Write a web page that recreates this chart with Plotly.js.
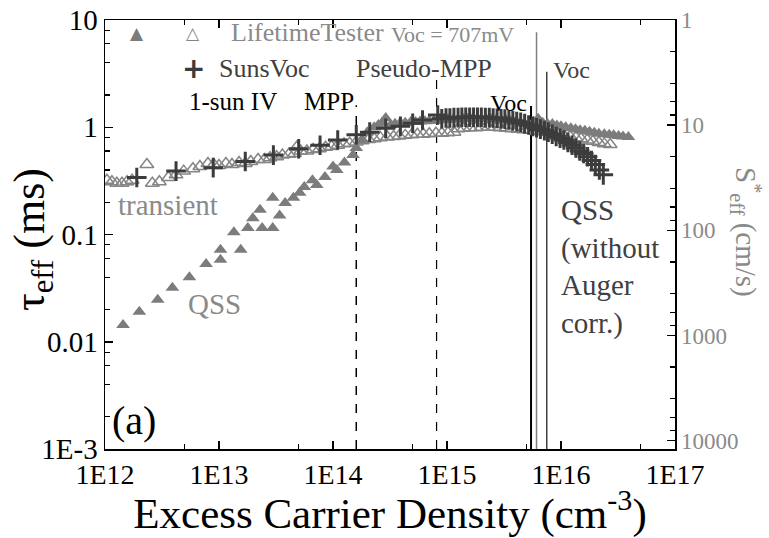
<!DOCTYPE html>
<html>
<head>
<meta charset="utf-8">
<script src="https://cdn.plot.ly/plotly-3.0.1.min.js"></script>
<style>html,body{margin:0;padding:0;background:#fff;}#chart{width:769px;height:538px;}</style>
</head>
<body>
<div id="chart"></div>
<script>
// ---- Data ----
// QSS (LifetimeTester, filled triangles): excess carrier density (cm^-3), tau_eff (ms)
const qssN = [1.44e12, 2.0e12, 2.9e12, 3.9e12, 5.5e12, 7.7e12, 1.03e13, 1.03e13, 1.35e13, 1.55e13,
  1.79e13, 1.98e13, 2.29e13, 2.39e13, 2.96e13, 2.96e13, 3.4e13, 3.8e13, 4.5e13, 5.1e13,
  5.6e13, 6.6e13, 7.2e13, 8.5e13, 1.0e14, 1.08e14, 1.26e14, 1.5e14, 1.6e14, 1.8e14,
  2.0e14, 2.3e14, 2.5e14, 2.7e14, 2.9e14, 3.2e14, 3.5e14, 3.9e14, 4.3e14, 4.8e14,
  5.3e14, 5.8e14, 6.4e14, 7.0e14, 7.7e14, 8.5e14, 9.4e14, 1.03e15, 1.13e15, 1.25e15,
  1.38e15, 1.52e15, 1.67e15, 1.84e15, 2.0e15, 2.2e15, 2.45e15, 2.7e15, 3.0e15, 3.3e15,
  3.6e15, 4.0e15, 4.4e15, 4.8e15, 5.3e15, 5.8e15, 6.3e15, 6.9e15, 7.6e15, 8.4e15,
  9.2e15, 1.0e16, 1.1e16, 1.22e16, 1.34e16, 1.47e16, 1.62e16, 1.78e16, 1.96e16, 2.15e16,
  2.4e16, 2.65e16, 2.9e16, 3.2e16, 3.5e16, 3.9e16];
const qssTau = [0.0143, 0.019, 0.0246, 0.0318, 0.040, 0.053, 0.072, 0.058, 0.105, 0.072,
  0.115, 0.142, 0.17, 0.115, 0.22, 0.115, 0.15, 0.197, 0.22, 0.245,
  0.277, 0.32, 0.29, 0.344, 0.43, 0.40, 0.47, 0.55, 0.64, 0.76,
  0.90, 1.0, 1.05, 1.1, 1.22, 1.05, 1.08, 1.1, 1.1, 1.12,
  1.12, 1.13, 1.14, 1.15, 1.15, 1.16, 1.17, 1.18, 1.18, 1.19,
  1.2, 1.2, 1.2, 1.2, 1.2, 1.2, 1.19, 1.18, 1.17, 1.16,
  1.14, 1.12, 1.1, 1.08, 1.06, 1.12, 1.2, 1.1, 1.08, 1.07,
  1.04, 1.02, 1.0, 0.98, 0.96, 0.94, 0.93, 0.91, 0.89, 0.87,
  0.86, 0.85, 0.84, 0.83, 0.82, 0.81];

// Transient (LifetimeTester, open triangles)
const tranN = [1.04e12, 1.15e12, 1.27e12, 1.41e12, 1.56e12, 1.73e12, 2.33e12, 2.6e12, 3.0e12, 3.6e12,
  4.2e12, 4.9e12, 5.9e12, 6.8e12, 8.0e12, 9.0e12, 1.0e13, 1.15e13, 1.3e13, 1.5e13,
  1.7e13, 1.9e13, 2.2e13, 2.5e13, 2.8e13, 3.2e13, 3.6e13, 4.1e13, 4.6e13, 4.8e13,
  5.2e13, 5.9e13, 6.7e13, 7.6e13, 8.6e13, 9.7e13, 1.1e14, 1.25e14, 1.4e14, 1.6e14,
  1.8e14, 2.05e14, 2.3e14, 2.6e14, 3.0e14, 3.4e14, 3.8e14, 4.3e14, 4.9e14, 5.5e14,
  6.2e14, 7.0e14, 8.0e14, 9.0e14, 1.02e15, 1.15e15, 1.25e15, 1.4e15, 1.6e15, 1.8e15,
  2.0e15, 2.3e15, 2.6e15, 2.9e15, 3.3e15, 3.7e15, 4.2e15, 4.7e15, 5.3e15, 6.0e15,
  6.7e15, 7.5e15, 8.4e15, 9.5e15, 1.06e16, 1.2e16, 1.35e16, 1.5e16, 1.7e16, 1.9e16,
  2.15e16, 2.4e16, 2.7e16];
const tranTau = [0.32, 0.31, 0.30, 0.30, 0.31, 0.32, 0.45, 0.30, 0.31, 0.34,
  0.36, 0.39, 0.41, 0.43, 0.46, 0.45, 0.44, 0.46, 0.45, 0.47,
  0.46, 0.48, 0.50, 0.50, 0.52, 0.53, 0.55, 0.56, 0.57, 0.65,
  0.60, 0.60, 0.62, 0.63, 0.65, 0.66, 0.68, 0.70, 0.71, 0.73,
  0.75, 0.77, 0.78, 0.80, 0.81, 0.82, 0.83, 0.84, 0.85, 0.86,
  0.86, 0.87, 0.88, 0.88, 0.89, 0.90, 0.97, 0.98, 0.99, 0.99,
  1.0, 1.0, 1.0, 0.99, 0.98, 0.97, 0.96, 0.95, 0.94, 0.92,
  0.91, 0.90, 0.88, 0.86, 0.84, 0.82, 0.80, 0.78, 0.76, 0.74,
  0.72, 0.70, 0.69];

// SunsVoc (crosses)
const sunsN = [1.9e12, 4.2e12, 8.9e12, 1.7e13, 3.0e13, 5.0e13, 7.7e13, 1.1e14, 1.6e14, 2.1e14,
  2.9e14, 3.9e14, 5.0e14, 6.1e14, 8.3e14, 9.0e14, 9.8e14, 1.06e15, 1.15e15, 1.25e15,
  1.35e15, 1.46e15, 1.58e15, 1.71e15, 1.85e15, 2.0e15, 2.17e15, 2.35e15, 2.54e15, 2.75e15,
  2.98e15, 3.22e15, 3.49e15, 3.78e15, 4.09e15, 4.43e15, 4.8e15, 5.2e15, 5.63e15, 6.1e15,
  6.6e15, 7.15e15, 7.74e15, 8.38e15, 9.07e15, 9.82e15, 1.06e16, 1.15e16, 1.25e16, 1.35e16,
  1.46e16, 1.58e16, 1.71e16, 1.85e16, 2.0e16, 2.17e16, 2.35e16];
const sunsTau = [0.34, 0.39, 0.42, 0.48, 0.55, 0.63, 0.68, 0.76, 0.85, 0.90,
  0.98, 1.02, 1.09, 1.17, 1.30, 1.20, 1.22, 1.22, 1.23, 1.23,
  1.24, 1.24, 1.24, 1.24, 1.24, 1.24, 1.23, 1.23, 1.22, 1.21,
  1.20, 1.19, 1.17, 1.15, 1.13, 1.11, 1.08, 1.05, 1.02, 0.99,
  0.96, 0.93, 0.90, 0.86, 0.82, 0.79, 0.76, 0.72, 0.68, 0.64,
  0.60, 0.57, 0.53, 0.49, 0.45, 0.40, 0.36];

// Marker lines (MPP, Pseudo-MPP, Voc lines): position and top (tau units)
const vlineN   = [1.6e14, 8.1e14, 5.46e15, 6.1e15, 7.5e15];
const vlineTop = [1.6, 2.9, 1.58, 7.7, 3.3];
const vlineBottom = 1e-3;

// Axis ticks
const xTickVals = [1e12, 1e13, 1e14, 1e15, 1e16, 1e17];
const xTickText = ['1E12', '1E13', '1E14', '1E15', '1E16', '1E17'];
const yTickVals = [10, 1, 0.1, 0.01, 0.001];
const yTickText = ['10', '1', '0.1', '0.01', '1E-3'];
const y2TickVals = [1, 10, 100, 1000, 10000];
const y2TickText = ['1', '10', '100', '1000', '10000'];
const sFactor = 10; // S*_eff (cm/s) = sFactor / tau_eff (ms)

// ---- Styles ----
const serif = "'Liberation Serif'";
const vlineStyles = [
  {color: '#000', width: 1.5, dash: 'dash'},
  {color: '#000', width: 1.2, dash: 'dash'},
  {color: '#000', width: 2, dash: 'solid'},
  {color: '#808080', width: 1.5, dash: 'solid'},
  {color: '#404040', width: 1.5, dash: 'solid'}
];

function minorVals(decLo, decHi, mult) {
  const out = [];
  for (let d = decLo; d < decHi; d++) for (const m of mult) out.push(m * Math.pow(10, d));
  return out;
}

const traces = [];
vlineN.forEach((v, i) => {
  traces.push({x: [v, v], y: [vlineBottom, vlineTop[i]], mode: 'lines', line: vlineStyles[i],
    hoverinfo: 'skip', showlegend: false, cliponaxis: false});
});
traces.push({x: tranN, y: tranTau, mode: 'markers', name: 'transient',
  marker: {symbol: 'triangle-up-open', size: 12, color: '#858585', line: {width: 1.5, color: '#858585'}}, showlegend: false});
traces.push({x: qssN, y: qssTau, mode: 'markers', name: 'QSS',
  marker: {symbol: 'triangle-up', size: 12, color: '#7c7c7c', line: {width: 0}}, showlegend: false});
traces.push({x: sunsN, y: sunsTau, mode: 'markers', name: 'SunsVoc',
  marker: {symbol: 'cross-thin-open', size: 14, color: '#3c3c3c', line: {width: 3, color: '#3c3c3c'}}, showlegend: false});
// Right-hand S*eff axis carries the same QSS data transformed (invisible)
traces.push({x: qssN, y: qssTau.map(t => sFactor / t), yaxis: 'y2', mode: 'markers',
  marker: {opacity: 0}, hoverinfo: 'skip', showlegend: false});

const L = 105, R = 675, T = 20, B = 449;
const px = x => (x - L) / (R - L);
const py = y => (B - y) / (B - T);
function ann(text, x, y, opts) {
  return Object.assign({text: text, xref: 'paper', yref: 'paper', x: px(x), y: py(y), showarrow: false,
    xanchor: 'left', yanchor: 'middle', font: {family: serif, size: 26, color: '#000'}}, opts || {});
}

const annotations = [
  ann('▲', 137, 33, {xanchor: 'center', font: {family: 'DejaVu Sans', size: 17, color: '#7c7c7c'}}),
  ann('△', 193, 33, {xanchor: 'center', font: {family: 'DejaVu Sans', size: 17, color: '#858585'}}),
  ann('LifetimeTester', 229, 33, {font: {family: serif, size: 26, color: '#8a8a8a'}}),
  ann('Voc = 707mV', 389, 34, {font: {family: serif, size: 22, color: '#8a8a8a'}}),
  ann('<b>+</b>', 193, 68, {xanchor: 'center', font: {family: 'DejaVu Sans', size: 28, color: '#3c3c3c'}}),
  ann('SunsVoc', 217, 68, {font: {family: serif, size: 26, color: '#404040'}}),
  ann('Pseudo-MPP', 354, 68, {font: {family: serif, size: 26, color: '#404040'}}),
  ann('1-sun IV', 187, 101, {font: {family: serif, size: 25, color: '#000'}}),
  ann('MPP', 302, 101, {font: {family: serif, size: 25, color: '#000'}}),
  ann('Voc', 529, 103, {xanchor: 'right', font: {family: serif, size: 24, color: '#000'}}),
  ann('Voc', 551, 70, {font: {family: serif, size: 24, color: '#404040'}}),
  ann('transient', 116, 205, {font: {family: serif, size: 29, color: '#8a8a8a'}}),
  ann('QSS', 186, 304, {font: {family: serif, size: 29, color: '#8a8a8a'}}),
  ann('QSS<br>(without<br>Auger<br>corr.)', 559, 192, {yanchor: 'top', align: 'left',
    font: {family: serif, size: 29, color: '#404040'}}),
  ann('(a)', 110, 420, {font: {family: serif, size: 40, color: '#000'}}),
  ann('τ<sub>eff</sub> (ms)', 33, 240, {xanchor: 'center', textangle: -90,
    font: {family: serif, size: 44, color: '#000'}}),
  ann('S<sup>*</sup><sub>eff</sub> (cm/s)', 746, 232, {xanchor: 'center', textangle: 90,
    font: {family: serif, size: 29, color: '#8a8a8a'}})
];

const layout = {
  width: 769, height: 538,
  margin: {l: L, r: 769 - R, t: T, b: 538 - B},
  paper_bgcolor: '#fff', plot_bgcolor: '#fff',
  showlegend: false,
  font: {family: serif},
  xaxis: {
    type: 'log', range: [12, 17], tickvals: xTickVals, ticktext: xTickText,
    ticks: 'inside', ticklen: 8, tickwidth: 1.5, tickcolor: '#000',
    showline: true, linewidth: 1.5, linecolor: '#000', mirror: 'ticks',
    showgrid: false, zeroline: false,
    tickfont: {family: serif, size: 28, color: '#000'},
    minor: {tickvals: minorVals(12, 17, [5]), ticks: 'inside', ticklen: 5, tickwidth: 1.2, tickcolor: '#000', showgrid: false},
    title: {text: 'Excess Carrier Density (cm<sup>-3</sup>)', font: {family: serif, size: 43, color: '#000'}, standoff: 2}
  },
  yaxis: {
    type: 'log', range: [-3, 1], tickvals: yTickVals, ticktext: yTickText,
    ticks: 'inside', ticklen: 8, tickwidth: 1.5, tickcolor: '#000',
    showline: true, linewidth: 1.5, linecolor: '#000',
    showgrid: false, zeroline: false,
    tickfont: {family: serif, size: 29, color: '#000'},
    minor: {tickvals: minorVals(-3, 1, [2, 4, 6, 8]), ticks: 'inside', ticklen: 5, tickwidth: 1.2, tickcolor: '#000', showgrid: false}
  },
  yaxis2: {
    type: 'log', range: [4.08, 0], overlaying: 'y', side: 'right', anchor: 'x',
    tickvals: y2TickVals, ticktext: y2TickText,
    ticks: 'inside', ticklen: 8, tickwidth: 1.5, tickcolor: '#000',
    showline: true, linewidth: 1.5, linecolor: '#000',
    showgrid: false, zeroline: false,
    tickfont: {family: serif, size: 23, color: '#8a8a8a'},
    minor: {tickvals: minorVals(0, 4, [2, 4, 6, 8]), ticks: 'inside', ticklen: 5, tickwidth: 1.2, tickcolor: '#000', showgrid: false}
  },
  annotations: annotations
};

Plotly.newPlot('chart', traces, layout, {staticPlot: true, displayModeBar: false});
</script>
</body>
</html>
